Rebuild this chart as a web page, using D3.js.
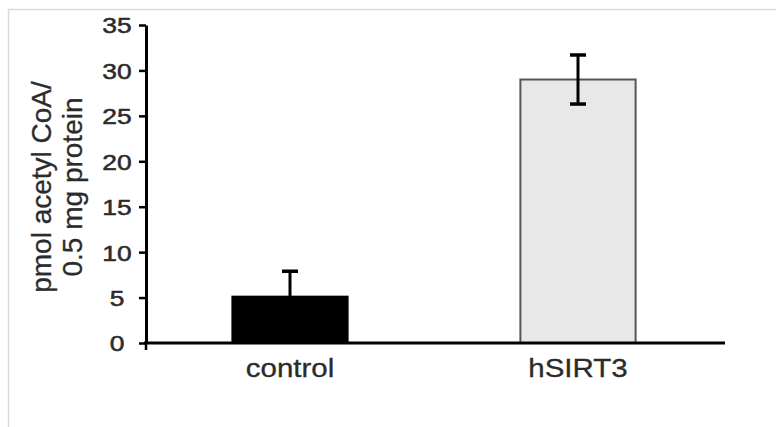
<!DOCTYPE html>
<html>
<head>
<meta charset="utf-8">
<script src="https://cdn.jsdelivr.net/npm/d3@7"></script>
<style>
  html, body { margin: 0; padding: 0; background: #fff; }
  svg { display: block; }
</style>
</head>
<body>
<svg id="chart" width="776" height="427"></svg>
<script>
const categories = ["control", "hSIRT3"];
const means = [5.1, 29.0];
const errors = [2.8, 2.7];
const errorLower = [false, true];
const fills = ["#000000", "#e8e8e8"];
const yTicks = [0, 5, 10, 15, 20, 25, 30, 35];
const yTitle = ["pmol acetyl CoA/", "0.5 mg protein"];

const svg = d3.select("#chart");
const W = 776, H = 427;
const margin = { left: 146, right: 54, top: 25, bottom: 84 };

// frame
svg.append("line").attr("x1", 8.5).attr("x2", 8.5).attr("y1", 9).attr("y2", H)
  .attr("stroke", "#d9d9d9").attr("stroke-width", 1.5);
svg.append("line").attr("x1", 8).attr("x2", W).attr("y1", 9.5).attr("y2", 9.5)
  .attr("stroke", "#d9d9d9").attr("stroke-width", 1.5);

const x = d3.scaleBand().domain(categories)
  .range([margin.left, W - margin.right])
  .paddingInner(0.6).paddingOuter(0.3);
const y = d3.scaleLinear().domain([0, 35]).range([H - margin.bottom, margin.top]);

const textColor = "#2b2b2b";

// bars
svg.selectAll("rect.bar").data(categories).join("rect")
  .attr("class", "bar")
  .attr("x", d => x(d))
  .attr("width", x.bandwidth())
  .attr("y", (d, i) => y(means[i]))
  .attr("height", (d, i) => y(0) - y(means[i]))
  .attr("fill", (d, i) => fills[i])
  .attr("stroke", (d, i) => i === 0 ? "#000" : "#555")
  .attr("stroke-width", 2);

// error bars
const eb = svg.selectAll("g.err").data(categories).join("g").attr("class", "err");
eb.append("line")
  .attr("x1", d => x(d) + x.bandwidth() / 2)
  .attr("x2", d => x(d) + x.bandwidth() / 2)
  .attr("y1", (d, i) => y(means[i] + errors[i]))
  .attr("y2", (d, i) => errorLower[i] ? y(means[i] - errors[i]) : y(means[i]))
  .attr("stroke", "#000").attr("stroke-width", 3);
eb.append("line")
  .attr("x1", d => x(d) + x.bandwidth() / 2 - 8)
  .attr("x2", d => x(d) + x.bandwidth() / 2 + 8)
  .attr("y1", (d, i) => y(means[i] + errors[i]))
  .attr("y2", (d, i) => y(means[i] + errors[i]))
  .attr("stroke", "#000").attr("stroke-width", 3.5);
eb.filter((d, i) => errorLower[i]).append("line")
  .attr("x1", d => x(d) + x.bandwidth() / 2 - 8)
  .attr("x2", d => x(d) + x.bandwidth() / 2 + 8)
  .attr("y1", d => { const i = categories.indexOf(d); return y(means[i] - errors[i]); })
  .attr("y2", d => { const i = categories.indexOf(d); return y(means[i] - errors[i]); })
  .attr("stroke", "#000").attr("stroke-width", 3.5);

// y axis
const yAxis = svg.append("g")
  .attr("transform", `translate(${margin.left},0)`)
  .call(d3.axisLeft(y).tickValues(yTicks).tickSize(7).tickPadding(0).tickSizeOuter(0));
yAxis.select(".domain").attr("stroke", "#000").attr("stroke-width", 3);
yAxis.selectAll(".tick line").attr("stroke", "#000").attr("stroke-width", 2.5);
yAxis.selectAll(".tick text")
  .attr("x", 0).attr("dy", "0.36em")
  .attr("text-anchor", "middle")
  .attr("transform", "translate(-29,0) scale(1.2,1)")
  .attr("fill", textColor)
  .attr("stroke", textColor).attr("stroke-width", 0.5)
  .style("font-family", "'Liberation Sans', Arial, sans-serif")
  .style("font-size", "22px");

// x axis
const xAxis = svg.append("g")
  .attr("transform", `translate(0,${y(0)})`)
  .call(d3.axisBottom(x).tickSize(0).tickPadding(0).tickSizeOuter(0));
xAxis.select(".domain").attr("stroke", "#000").attr("stroke-width", 3)
  .attr("d", `M${margin.left - 2},0H${W - margin.right + 3}`);
xAxis.selectAll(".tick text")
  .attr("y", 0).attr("dy", 0)
  .attr("transform", "translate(0,34) scale(1.18,1)")
  .attr("fill", textColor)
  .attr("stroke", textColor).attr("stroke-width", 0.3)
  .style("font-family", "'Liberation Sans', Arial, sans-serif")
  .style("font-size", "25px");
// small category-boundary tick
svg.append("line").attr("x1", margin.left).attr("x2", margin.left)
  .attr("y1", y(0)).attr("y2", y(0) + 7).attr("stroke", "#000").attr("stroke-width", 2.5);

// y title
const yt = svg.append("text")
  .attr("transform", "translate(0,187) rotate(-90)")
  .attr("text-anchor", "middle")
  .attr("fill", textColor)
  .attr("stroke", textColor).attr("stroke-width", 0.3)
  .style("font-family", "'Liberation Sans', Arial, sans-serif")
  .style("font-size", "28px");
yt.selectAll("tspan").data(yTitle).join("tspan")
  .attr("x", 0)
  .attr("y", (d, i) => i === 0 ? 51 : 82)
  .text(d => d);
</script>
</body>
</html>
